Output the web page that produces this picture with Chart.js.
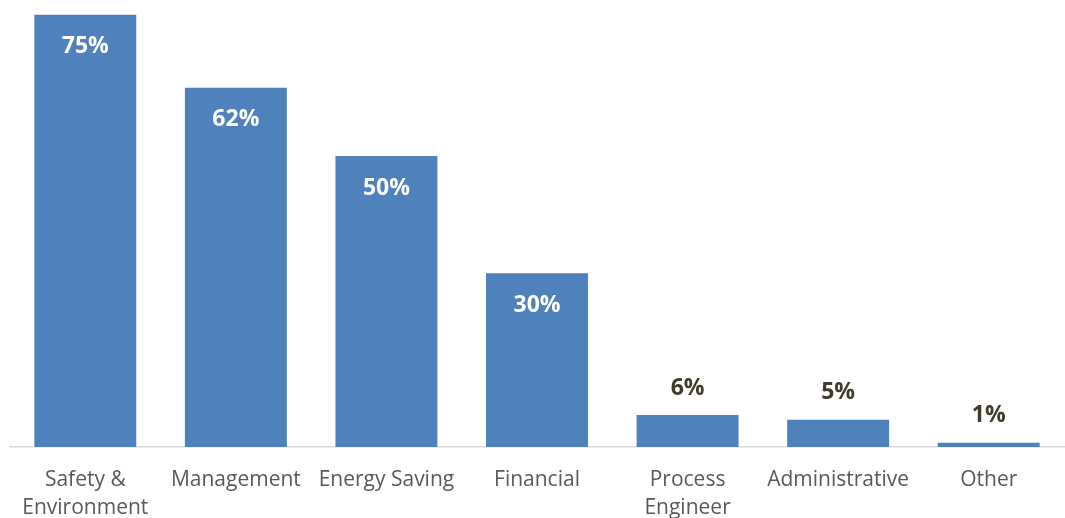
<!DOCTYPE html>
<html>
<head>
<meta charset="utf-8">
<script src="https://cdn.jsdelivr.net/npm/chart.js@4.4.1/dist/chart.umd.min.js"></script>
<style>
html,body{margin:0;padding:0;background:#fff;}
#wrap{width:1065px;height:518px;position:relative;}
</style>
</head>
<body>
<div id="wrap"><canvas id="c" width="1065" height="518"></canvas></div>
<script>
const categories = [["Safety &","Environment"],"Management","Energy Saving","Financial",["Process","Engineer"],"Administrative","Other"];
const values = [74.6, 62.0, 50.2, 30.0, 5.5, 4.7, 0.75];
const yMax = 75.4;

const labelPlugin = {
  id: 'valueLabels',
  afterDatasetsDraw(chart) {
    const ctx = chart.ctx;
    const meta = chart.getDatasetMeta(0);
    ctx.save();
    ctx.font = 'bold 23px "Open Sans", sans-serif';
    ctx.textAlign = 'center';
    ctx.textBaseline = 'middle';
    meta.data.forEach((bar, i) => {
      const v = values[i];
      const txt = Math.round(v) + '%';
      if (v >= 20) {
        ctx.fillStyle = '#ffffff';
        ctx.fillText(txt, bar.x, bar.y + 32);
      } else {
        ctx.fillStyle = '#403b2a';
        ctx.fillText(txt, bar.x, bar.y - 27);
      }
    });
    ctx.restore();
  }
};

new Chart(document.getElementById('c'), {
  type: 'bar',
  data: {
    labels: categories,
    datasets: [{
      data: values,
      backgroundColor: '#4f81bd',
      borderWidth: 0,
      barPercentage: 0.677,
      categoryPercentage: 1.0
    }]
  },
  options: {
    responsive: false,
    animation: false,
    layout: { padding: { left: 10, right: 1, top: 10, bottom: -23 } },
    plugins: { legend: { display: false }, tooltip: { enabled: false } },
    scales: {
      x: {
        grid: { display: false, drawTicks: false },
        border: { display: true, color: '#d9d9d9', width: 1.5 },
        ticks: {
          color: '#595959',
          font: { family: '"Open Sans", sans-serif', size: 21, lineHeight: 1.3333 },
          padding: 19,
          maxRotation: 0,
          autoSkip: false
        }
      },
      y: {
        display: false,
        min: 0,
        max: yMax
      }
    }
  },
  plugins: [labelPlugin]
});
</script>
</body>
</html>
